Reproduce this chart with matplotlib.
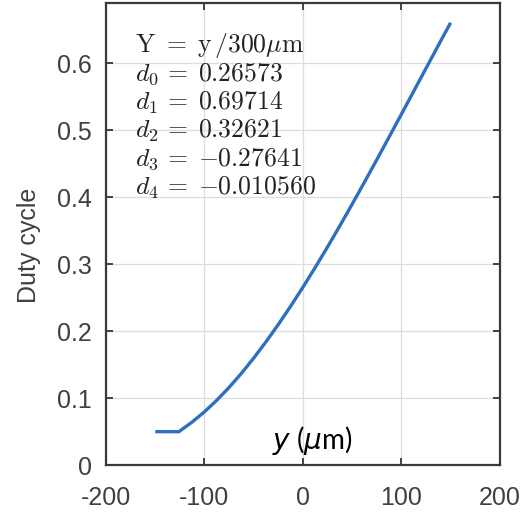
import matplotlib
matplotlib.use("Agg")
import matplotlib.pyplot as plt

plt.rcParams['font.family'] = ['Liberation Sans', 'DejaVu Sans']
plt.rcParams['mathtext.fontset'] = 'cm'
plt.rcParams['axes.unicode_minus'] = False

# curve values
pos_um = [-150, -137.5, -126, -112.5, -100, -87.5, -75, -62.5, -50, -37.5,
          -25, -12.5, 0, 12.5, 25, 37.5, 50, 62.5, 75, 87.5, 100, 112.5,
          125, 137.5, 150]
duty = [0.050, 0.050, 0.050, 0.0645, 0.0797, 0.0969, 0.1161, 0.1371,
        0.1599, 0.1842, 0.2101, 0.2373, 0.2657, 0.2953, 0.3259, 0.3574,
        0.3897, 0.4226, 0.4561, 0.4899, 0.5240, 0.5582, 0.5925, 0.6267,
        0.6606]

x_ticks = [-200, -100, 0, 100, 200]
y_ticks = [0, 0.1, 0.2, 0.3, 0.4, 0.5, 0.6]

coef_lines = [r'$\mathrm{Y}\ =\;\mathrm{y}\,/300\mu\mathrm{m}$',
              r'$d_0\, =\;0.26573$',
              r'$d_1\, =\;0.69714$',
              r'$d_2\, =\;0.32621$',
              r'$d_3\, =\;{-}0.27641$',
              r'$d_4\, =\;{-}0.010560$']

fig = plt.figure(figsize=(5.25, 5.14), dpi=100)
ax = fig.add_axes([0.202, 0.095, 0.750, 0.899])

ax.plot(pos_um, duty, color='#2f6fbf', lw=2.4, solid_capstyle='butt')

ax.set_xlim(-200, 200)
ax.set_ylim(0, 0.69)
ax.set_xticks(x_ticks)
ax.set_yticks(y_ticks)
ax.set_yticklabels([f'{v:g}' for v in y_ticks])
ax.grid(True, color='#dddddd', lw=0.9)
ax.tick_params(direction='in', length=5, width=1.2, top=True, right=True,
               labelsize=18, labelcolor='#404040', colors='#262626')
ax.tick_params(axis='x', pad=15)
ax.tick_params(axis='y', pad=10)
for s in ax.spines.values():
    s.set_color('#3a3a3a')
    s.set_linewidth(1.6)

ax.set_ylabel('Duty cycle', fontsize=18, color='#404040')
ax.yaxis.set_label_coords(-0.165, 0.476)

for i, t in enumerate(coef_lines):
    ax.text(-171, 0.627 - i * 0.0427, t, fontsize=18.5, color='#222222',
            va='center', ha='left')

ax.text(9, 0.037, r'$y$ ($\mu$m)', fontsize=20, color='black',
        ha='center', va='center', family=['Lato', 'DejaVu Sans'],
        math_fontfamily='dejavusans')

fig.savefig('out.png', dpi=100)
